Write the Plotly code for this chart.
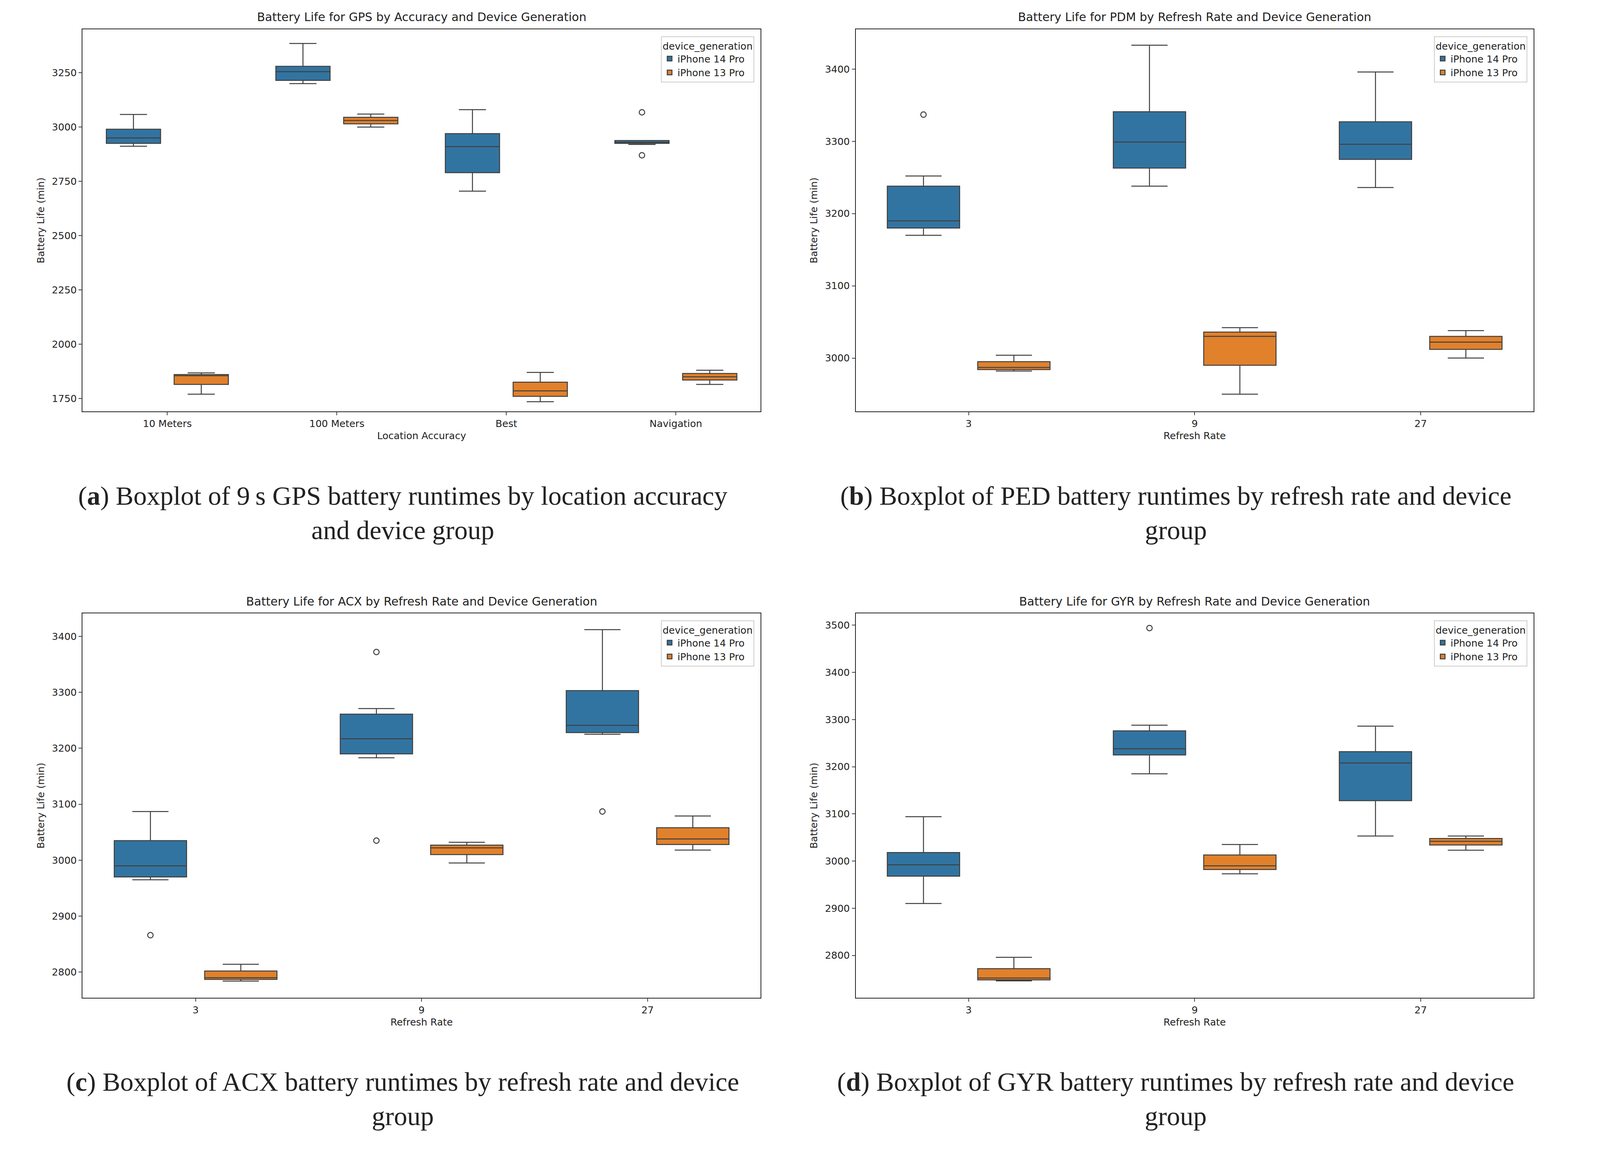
import plotly.graph_objects as go

BLUE = "#3274a1"
ORANGE = "#e1812c"
EDGE = "#3f3f3f"

# stats per category: [lower whisker, q1, median, q3, upper whisker]
gps_cats = ["10 Meters", "100 Meters", "Best", "Navigation"]
gps_14 = [[2912, 2925, 2950, 2990, 3058], [3200, 3215, 3255, 3280, 3385],
          [2705, 2790, 2910, 2970, 3080], [2920, 2925, 2930, 2938, 2938]]
gps_13 = [[1770, 1815, 1855, 1860, 1868], [3000, 3015, 3030, 3045, 3060],
          [1735, 1760, 1785, 1825, 1870], [1815, 1835, 1850, 1865, 1880]]
gps_out_14 = [[], [], [], [3068, 2870]]
gps_out_13 = [[], [], [], []]

rate_cats = ["3", "9", "27"]
pdm_14 = [[3170, 3180, 3190, 3238, 3252], [3238, 3263, 3299, 3341, 3433],
          [3236, 3275, 3296, 3327, 3396]]
pdm_13 = [[2982, 2984, 2987, 2995, 3004], [2950, 2990, 3030, 3036, 3042],
          [3000, 3012, 3022, 3030, 3038]]
pdm_out_14 = [[3337], [], []]
pdm_out_13 = [[], [], []]

acx_14 = [[2965, 2970, 2990, 3035, 3087], [3183, 3190, 3217, 3261, 3271],
          [3225, 3228, 3241, 3303, 3412]]
acx_13 = [[2784, 2787, 2790, 2802, 2814], [2995, 3010, 3022, 3027, 3032],
          [3018, 3028, 3038, 3058, 3079]]
acx_out_14 = [[2866], [3372, 3035], [3087]]
acx_out_13 = [[], [], []]

gyr_14 = [[2910, 2968, 2992, 3018, 3094], [3185, 3225, 3238, 3276, 3288],
          [3053, 3128, 3208, 3232, 3286]]
gyr_13 = [[2746, 2748, 2752, 2772, 2796], [2973, 2982, 2990, 3013, 3035],
          [3023, 3034, 3042, 3048, 3053]]
gyr_out_14 = [[], [3494], []]
gyr_out_13 = [[], [], []]

panels = [
    dict(title="Battery Life for GPS by Accuracy and Device Generation", xlabel="Location Accuracy",
         cats=gps_cats, s14=gps_14, s13=gps_13, o14=gps_out_14, o13=gps_out_13,
         yr=[1690, 3450], dtick=250, x=[0.051, 0.486], y=[0.642, 0.977],
         caption="(<b>a</b>) Boxplot of 9\u2009s GPS battery runtimes by location accuracy<br>and device group"),
    dict(title="Battery Life for PDM by Refresh Rate and Device Generation", xlabel="Refresh Rate",
         cats=rate_cats, s14=pdm_14, s13=pdm_13, o14=pdm_out_14, o13=pdm_out_13,
         yr=[2926, 3455], dtick=100, x=[0.547, 0.982], y=[0.642, 0.977],
         caption="(<b>b</b>) Boxplot of PED battery runtimes by refresh rate and device<br>group"),
    dict(title="Battery Life for ACX by Refresh Rate and Device Generation", xlabel="Refresh Rate",
         cats=rate_cats, s14=acx_14, s13=acx_13, o14=acx_out_14, o13=acx_out_13,
         yr=[2754, 3441], dtick=100, x=[0.051, 0.486], y=[0.128, 0.465],
         caption="(<b>c</b>) Boxplot of ACX battery runtimes by refresh rate and device<br>group"),
    dict(title="Battery Life for GYR by Refresh Rate and Device Generation", xlabel="Refresh Rate",
         cats=rate_cats, s14=gyr_14, s13=gyr_13, o14=gyr_out_14, o13=gyr_out_13,
         yr=[2710, 3525], dtick=100, x=[0.547, 0.982], y=[0.128, 0.465],
         caption="(<b>d</b>) Boxplot of GYR battery runtimes by refresh rate and device<br>group"),
]

fig = go.Figure()
layout = dict(width=3990, height=2920, paper_bgcolor="white", plot_bgcolor="white",
              margin=dict(l=0, r=0, t=0, b=0), font=dict(family="DejaVu Sans", color="#222"),
              annotations=[])

for i, p in enumerate(panels):
    n = "" if i == 0 else str(i + 1)
    xa, ya, lg = "x" + n, "y" + n, "legend" + n
    for label, stats, outs, color, off in [("iPhone 14 Pro", p["s14"], p["o14"], BLUE, -0.2),
                                           ("iPhone 13 Pro", p["s13"], p["o13"], ORANGE, 0.2)]:
        pos = [k + off for k in range(len(p["cats"]))]
        fig.add_trace(go.Box(
            x=pos, lowerfence=[s[0] for s in stats], q1=[s[1] for s in stats],
            median=[s[2] for s in stats], q3=[s[3] for s in stats],
            upperfence=[s[4] for s in stats], width=0.32, whiskerwidth=0.5,
            fillcolor=color, line=dict(color=EDGE, width=2.5), name=label,
            xaxis=xa, yaxis=ya, legend=lg, boxpoints=False))
        ox, oy = [], []
        for k, vals in enumerate(outs):
            for v in vals:
                ox.append(pos[k])
                oy.append(v)
        fig.add_trace(go.Scatter(x=ox, y=oy, mode="markers", showlegend=False,
                                 marker=dict(size=14, color="white", line=dict(color=EDGE, width=2.5)),
                                 xaxis=xa, yaxis=ya))
    axcommon = dict(showline=True, mirror=True, linecolor="#222", linewidth=2, showgrid=False,
                    ticks="outside", ticklen=8, tickwidth=2, tickfont=dict(size=25), zeroline=False)
    layout["xaxis" + n] = dict(axcommon, domain=p["x"], anchor=ya, range=[-0.5, len(p["cats"]) - 0.5],
                               tickvals=list(range(len(p["cats"]))), ticktext=p["cats"],
                               title=dict(text=p["xlabel"], font=dict(size=25), standoff=8))
    layout["yaxis" + n] = dict(axcommon, domain=p["y"], anchor=xa, range=p["yr"], dtick=p["dtick"],
                               title=dict(text="Battery Life (min)", font=dict(size=25), standoff=12))
    layout[lg] = dict(x=p["x"][1] - 0.004, y=p["y"][1] - 0.006, xanchor="right", yanchor="top",
                      title=dict(text="device_generation", font=dict(size=25)), font=dict(size=25),
                      bordercolor="#ccc", borderwidth=2, bgcolor="rgba(255,255,255,0.8)")
    layout["annotations"].append(dict(text=p["title"], x=sum(p["x"]) / 2, y=p["y"][1] + 0.004,
                                      xref="paper", yref="paper", xanchor="center", yanchor="bottom",
                                      showarrow=False, font=dict(size=30)))
    layout["annotations"].append(dict(text=p["caption"], x=sum(p["x"]) / 2 - 0.012, y=p["y"][0] - 0.06,
                                      xref="paper", yref="paper", xanchor="center", yanchor="top",
                                      showarrow=False, align="center",
                                      font=dict(size=68, family="Liberation Serif, DejaVu Serif")))

fig.update_layout(**layout)
fig.write_html("out.html")
